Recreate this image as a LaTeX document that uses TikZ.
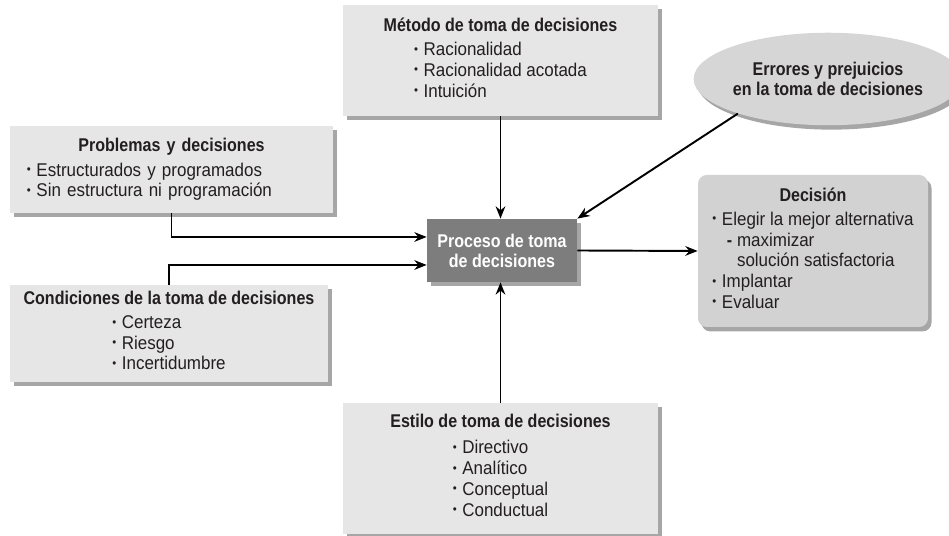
\documentclass[tikz,border=0pt]{standalone}
\usepackage{fontspec}
\setmainfont{Liberation Sans}[FakeStretch=0.92,BoldFeatures={FakeStretch=0.87}]
\usetikzlibrary{arrows.meta}
\usetikzlibrary{shadows}
\usetikzlibrary{shapes.geometric}

\definecolor{cajagris}{HTML}{E6E6E6}
\definecolor{procesogris}{HTML}{7D7D7D}
\definecolor{decisiongris}{HTML}{D2D2D2}
\definecolor{elipsegris}{HTML}{D6D6D6}
\definecolor{textooscuro}{HTML}{231F20}
\newcommand{\itm}{\raisebox{.25ex}{\scriptsize\textbullet}\hspace{.3em}}

\begin{document}
\begin{tikzpicture}[
		caja/.style={fill=cajagris, inner sep=0pt, text=textooscuro,
			font=\fontsize{10.5}{11.8}\selectfont,
			drop shadow={shadow xshift=2pt, shadow yshift=-2.5pt, fill=black, opacity=.35}},
		flecha/.style={line width=1.1pt, -{Stealth[length=7pt,width=5.5pt]}}
	]
		\useasboundingbox (0,0) rectangle (18.98,10.72);
		% cajas
		\node[caja, minimum width=6.3cm, minimum height=2.22cm, align=center] (metodo) at (10.01,9.51)
			{\textbf{Método de toma de decisiones}\\[2pt]
			\begin{tabular}[t]{@{}l@{}}\itm Racionalidad\\ \itm Racionalidad acotada\\ \itm Intuición\end{tabular}};
		\node[caja, minimum width=6.46cm, minimum height=1.74cm, text width=5.78cm, align=left] (problemas) at (3.43,7.33)
			{\makebox[5.78cm]{\textbf{Problemas y decisiones}}\\[2pt]
			\itm Estructurados y programados\\ \itm Sin estructura ni programación};
		\node[caja, minimum width=6.36cm, minimum height=1.94cm, align=center] (condiciones) at (3.38,4.05)
			{\textbf{Condiciones de la toma de decisiones}\\[2pt]
			\begin{tabular}[t]{@{}l@{}}\itm Certeza\\ \itm Riesgo\\ \itm Incertidumbre\end{tabular}};
		\node[caja, minimum width=6.3cm, minimum height=2.62cm, align=center] (estilo) at (10.01,1.35)
			{\textbf{Estilo de toma de decisiones}\\[3pt]
			\begin{tabular}[t]{@{}l@{}}\itm Directivo\\ \itm Analítico\\ \itm Conceptual\\ \itm Conductual\end{tabular}};
		\node[caja, fill=procesogris, text=white, font=\fontsize{10.5}{11.4}\selectfont\bfseries,
			minimum width=3cm, minimum height=1.26cm, align=center] (proceso) at (10.04,5.71)
			{Proceso de toma\\ de decisiones};
		\node[caja, ellipse, fill=elipsegris, minimum width=5.12cm, minimum height=1.85cm, align=center] (errores) at (16.56,9.14)
			{\textbf{Errores y prejuicios}\\ \textbf{en la toma de decisiones}};
		\node[caja, fill=decisiongris, rounded corners=5pt, minimum width=4.6cm, minimum height=3.04cm,
			align=center] (decision) at (16.26,5.70)
			{\textbf{Decisión}\\[2pt]
			\begin{tabular}[t]{@{}l@{}}\itm Elegir la mejor alternativa\\
			\phantom{\itm}\hspace*{0.1cm}{\bfseries -} maximizar\\
			\phantom{\itm}\hspace*{0.1cm}\phantom{\bfseries -} solución satisfactoria\\
			\itm Implantar\\ \itm Evaluar\end{tabular}};
		% flechas
		\draw[flecha] (metodo.south) -- (metodo.south |- proceso.north);
		\draw[flecha] (estilo.north) -- (estilo.north |- proceso.south);
		\draw[flecha] (errores.201) -- (proceso.north east);
		\draw[flecha] (proceso.east) -- (decision.west);
		\draw[flecha] (problemas.south) |- ([yshift=0.27cm]proceso.west);
		\draw[flecha] (condiciones.north) |- ([yshift=-0.29cm]proceso.west);
	\end{tikzpicture}
\end{document}
